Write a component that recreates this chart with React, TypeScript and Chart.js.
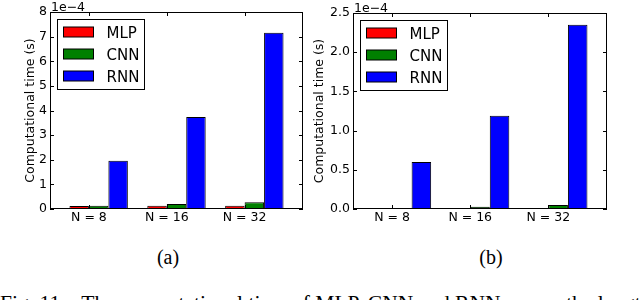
import React, { useEffect, useRef } from "react";
import { Chart, registerables } from "chart.js";

Chart.register(...registerables);

// ---------- data ----------
const categories = ["N = 8", "N = 16", "N = 32"];
const seriesLabels = ["MLP", "CNN", "RNN"];
const seriesColors = ["#ff0000", "#008000", "#0000ff"];

// (a) computational time, units of 1e-4 s
const mlpA = [0.12, 0.13, 0.13];
const cnnA = [0.13, 0.2, 0.27];
const rnnA = [1.96, 3.74, 7.16];
const yTicksA = [0, 1, 2, 3, 4, 5, 6, 7, 8];

// (b) computational time, units of 1e-4 s
const mlpB = [0.006, 0.007, 0.008];
const cnnB = [0.01, 0.03, 0.05];
const rnnB = [0.6, 1.19, 2.35];
const yTicksB = [0, 0.5, 1.0, 1.5, 2.0, 2.5];

const yTitle = "Computational time (s)";
const exponentLabel = "1e\u22124";
const subLabels = ["(a)", "(b)"];
const caption =
  "Fig. 11.\u2002 The computational time of MLP, CNN and RNN versus the length of the input sequence.";

const FONT = "'DejaVu Sans', sans-serif";

// ---------- plugin: frame, inward ticks, exponent, legend ----------
const framePlugin = {
  id: "frame",
  afterDraw(chart: any, _args: any, opts: any) {
    const { ctx, chartArea: a, scales } = chart;
    ctx.save();
    ctx.strokeStyle = "#000";
    ctx.lineWidth = 1;
    const L = 4;
    ctx.beginPath();
    scales.y.ticks.forEach((_t: any, i: number) => {
      const y = Math.round(scales.y.getPixelForTick(i)) + 0.5;
      ctx.moveTo(a.left, y);
      ctx.lineTo(a.left + L, y);
      ctx.moveTo(a.right, y);
      ctx.lineTo(a.right - L, y);
    });
    scales.x.ticks.forEach((_t: any, i: number) => {
      const x = Math.round(scales.x.getPixelForTick(i)) + 0.5;
      ctx.moveTo(x, a.bottom);
      ctx.lineTo(x, a.bottom - L);
      ctx.moveTo(x, a.top);
      ctx.lineTo(x, a.top + L);
    });
    ctx.stroke();
    ctx.strokeRect(
      Math.round(a.left) + 0.5,
      Math.round(a.top) + 0.5,
      Math.round(a.right - a.left) - 1,
      Math.round(a.bottom - a.top) - 1
    );

    // exponent label
    ctx.fillStyle = "#000";
    ctx.font = `12.5px ${FONT}`;
    ctx.textAlign = "left";
    ctx.textBaseline = "alphabetic";
    ctx.fillText(opts.exponent, a.left + 1, a.top - 1.5);

    // legend
    const bx = Math.round(a.left + opts.dx) + 0.5;
    const by = Math.round(a.top + opts.dy) + 0.5;
    ctx.fillStyle = "#fff";
    ctx.fillRect(bx, by, opts.w, opts.h);
    ctx.strokeRect(bx, by, opts.w, opts.h);
    ctx.font = `15px ${FONT}`;
    chart.data.datasets.forEach((ds: any, i: number) => {
      const cy = by + 12.5 + 22 * i;
      const px = bx + 6;
      ctx.fillStyle = ds.backgroundColor;
      ctx.fillRect(px, cy - 5, 30, 10);
      ctx.strokeStyle = "#000";
      ctx.strokeRect(px, cy - 5, 30, 10);
      ctx.fillStyle = "#000";
      ctx.fillText(ds.label, bx + 49, cy + 5.5);
    });
    ctx.restore();
  },
};

function makeConfig(
  series: number[][],
  yTicks: number[],
  yMax: number,
  fmt: (v: number) => string,
  geom: { yWidth: number; top: number; right: number; titlePad: number }
) {
  return {
    type: "bar" as const,
    data: {
      datasets: series.map((vals, s) => ({
        label: seriesLabels[s],
        data: vals.map((v, i) => ({ x: i, y: v })),
        backgroundColor: seriesColors[s],
        borderColor: "#000",
        borderWidth: 1,
        categoryPercentage: 0.75,
        barPercentage: 1.0,
      })),
    },
    options: {
      responsive: false,
      maintainAspectRatio: false,
      animation: false,
      devicePixelRatio: 1,
      layout: { padding: { left: 0, top: geom.top, right: geom.right, bottom: 0 } },
      plugins: {
        legend: { display: false },
        tooltip: { enabled: false },
        frame: { exponent: exponentLabel, dx: 7, dy: 6.5, w: 87, h: 70 },
      },
      scales: {
        x: {
          type: "linear",
          offset: false,
          min: -0.625,
          max: categories.length - 1 + 0.625,
          grid: { display: false, drawTicks: false },
          border: { display: false },
          afterBuildTicks: (scale: any) => {
            scale.ticks = categories.map((_c, i) => ({ value: i - 0.125 }));
          },
          afterFit: (scale: any) => {
            scale.height = 21;
          },
          ticks: {
            padding: 1,
            autoSkip: false,
            maxRotation: 0,
            color: "#000",
            font: { family: FONT, size: 12.5 },
            callback: (_v: any, idx: number) => categories[idx],
          },
        },
        y: {
          type: "linear",
          min: 0,
          max: yMax,
          grid: { display: false, drawTicks: false },
          border: { display: false },
          afterBuildTicks: (scale: any) => {
            scale.ticks = yTicks.map((v) => ({ value: v }));
          },
          afterFit: (scale: any) => {
            scale.width = geom.yWidth;
          },
          ticks: {
            padding: 3,
            color: "#000",
            font: { family: FONT, size: 12.5 },
            callback: (v: any) => fmt(Number(v)),
          },
          title: {
            display: true,
            text: yTitle,
            color: "#000",
            font: { family: FONT, size: 12.5 },
            padding: { top: geom.titlePad, bottom: 0 },
          },
        },
      },
    },
    plugins: [framePlugin],
  };
}

function BarPanel(props: { config: any; left: number; width: number }) {
  const ref = useRef<HTMLCanvasElement | null>(null);
  useEffect(() => {
    if (!ref.current) return;
    const chart = new Chart(ref.current, props.config);
    return () => chart.destroy();
  }, []);
  return (
    <canvas
      ref={ref}
      width={props.width}
      height={230}
      style={{ position: "absolute", left: props.left, top: 0, width: props.width, height: 230 }}
    />
  );
}

export default function App() {
  const cfgA = makeConfig([mlpA, cnnA, rnnA], yTicksA, 8, (v) => String(v), {
    yWidth: 50,
    top: 12,
    right: 17,
    titlePad: 23,
  });
  const cfgB = makeConfig([mlpB, cnnB, rnnB], yTicksB, 2.5, (v) => v.toFixed(1), {
    yWidth: 53,
    top: 13,
    right: 33,
    titlePad: 12.5,
  });
  const serif = "'Liberation Serif', 'Times New Roman', serif";
  return (
    <div
      style={{
        position: "fixed",
        left: 0,
        top: 0,
        width: 640,
        height: 300,
        overflow: "hidden",
        background: "#fff",
      }}
    >
      <BarPanel config={cfgA} left={0} width={320} />
      <BarPanel config={cfgB} left={300} width={340} />
      {subLabels.map((t, i) => (
        <div
          key={t}
          style={{
            position: "absolute",
            left: i === 0 ? 168 - 40 : 491 - 40,
            width: 80,
            top: 247,
            textAlign: "center",
            fontFamily: serif,
            fontSize: 20,
            lineHeight: "20px",
            color: "#000",
          }}
        >
          {t}
        </div>
      ))}
      <div
        style={{
          position: "absolute",
          left: 0,
          top: 292,
          whiteSpace: "nowrap",
          fontFamily: serif,
          fontSize: 21.5,
          lineHeight: "22px",
          color: "#000",
        }}
      >
        {caption}
      </div>
    </div>
  );
}
